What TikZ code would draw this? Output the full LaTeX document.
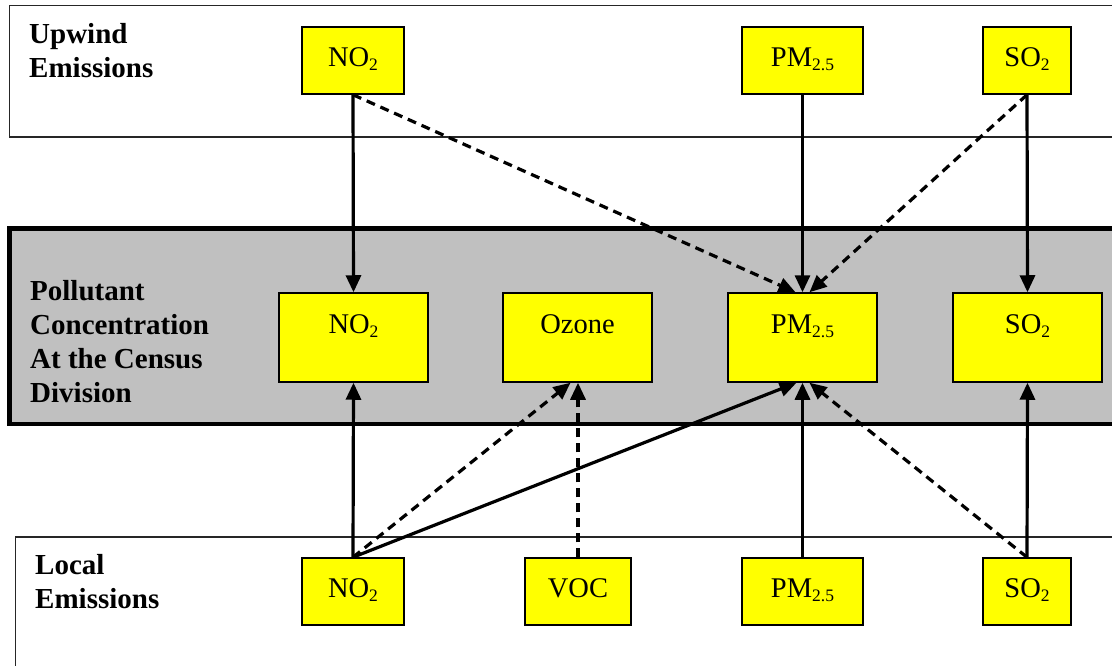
\documentclass[tikz,border=0pt]{standalone}
\usepackage{fontspec}
\setmainfont{Liberation Serif}
\usetikzlibrary{arrows.meta}
\definecolor{bandgray}{HTML}{C0C0C0}
\definecolor{boxyellow}{HTML}{FFFF00}
\newcommand{\subt}[1]{\raisebox{-4pt}{\fontsize{17.5}{17.5}\selectfont #1}}
\begin{document}
\begin{tikzpicture}[x=1pt,y=-1pt,
  every node/.style={font=\fontsize{28.5}{34}\selectfont},
  pbox/.style={draw=black, line width=1.5pt, fill=boxyellow, inner xsep=0pt, inner ysep=0pt, anchor=base},
  topbox/.style={pbox, text height=40pt, text depth=27pt},
  midbox/.style={pbox, minimum width=149pt, text height=40pt, text depth=49pt},
  botbox/.style={pbox, text height=39pt, text depth=28pt},
  lbl/.style={font=\fontsize{29}{34}\selectfont\bfseries, align=left, anchor=base west, inner sep=0pt},
  conn/.style={line width=3.2pt, -{Triangle[length=17pt,width=15pt]}},
  dconn/.style={conn, dash pattern=on 9pt off 6pt},
  panel/.style={draw=black!85, line width=1.5pt, fill=white},
]
\useasboundingbox (0,0) rectangle (1112,666);
\clip (0,0) rectangle (1112,666);
% panels
\draw[panel] (9.5,5.5) rectangle (1130,137);
\draw[draw=black, line width=4.5pt, fill=bandgray] (9.5,228.5) rectangle (1130,424);
\draw[panel] (15.5,537) rectangle (1130,700);
% labels (anchor = baseline of the last line)
\node[lbl] (lu) at (29,78) {Upwind\\Emissions};
\node[lbl] (lm) at (30,402) {Pollutant\\Concentration\\At the Census\\Division};
\node[lbl] (ll) at (35,608) {Local\\Emissions};
% upwind boxes
\node[topbox, minimum width=102pt] (noU) at (353,67) {NO\subt{2}};
\node[topbox, minimum width=121pt] (pmU) at (802.5,67) {PM\subt{2.5}};
\node[topbox, minimum width=88pt] (soU) at (1027,67) {SO\subt{2}};
% middle boxes
\node[midbox] (noM) at (353.5,333) {NO\subt{2}};
\node[midbox] (ozM) at (577.5,333) {Ozone};
\node[midbox] (pmM) at (802.5,333) {PM\subt{2.5}};
\node[midbox] (soM) at (1027.5,333) {SO\subt{2}};
% local boxes
\node[botbox, minimum width=102pt] (noL) at (353,597) {NO\subt{2}};
\node[botbox, minimum width=106pt] (vocL) at (578,597) {VOC};
\node[botbox, minimum width=121pt] (pmL) at (802.5,597) {PM\subt{2.5}};
\node[botbox, minimum width=88pt] (soL) at (1027,597) {SO\subt{2}};
% connectors from upwind
\draw[conn] (noU.south) -- (noM.north);
\draw[dconn] (noU.south) -- ([xshift=-7pt]pmM.north);
\draw[conn] (pmU.south) -- (pmM.north);
\draw[dconn] (soU.south) -- ([xshift=7pt]pmM.north);
\draw[conn] (soU.south) -- (soM.north);
% connectors from local
\draw[conn] (noL.north) -- (noM.south);
\draw[dconn] (noL.north) -- ([xshift=-7pt]ozM.south);
\draw[conn] (noL.north) -- ([xshift=-6pt]pmM.south);
\draw[dconn] (vocL.north) -- ([xshift=0.5pt]ozM.south);
\draw[conn] (pmL.north) -- (pmM.south);
\draw[dconn] (soL.north) -- ([xshift=7pt]pmM.south);
\draw[conn] (soL.north) -- (soM.south);
\end{tikzpicture}
\end{document}
